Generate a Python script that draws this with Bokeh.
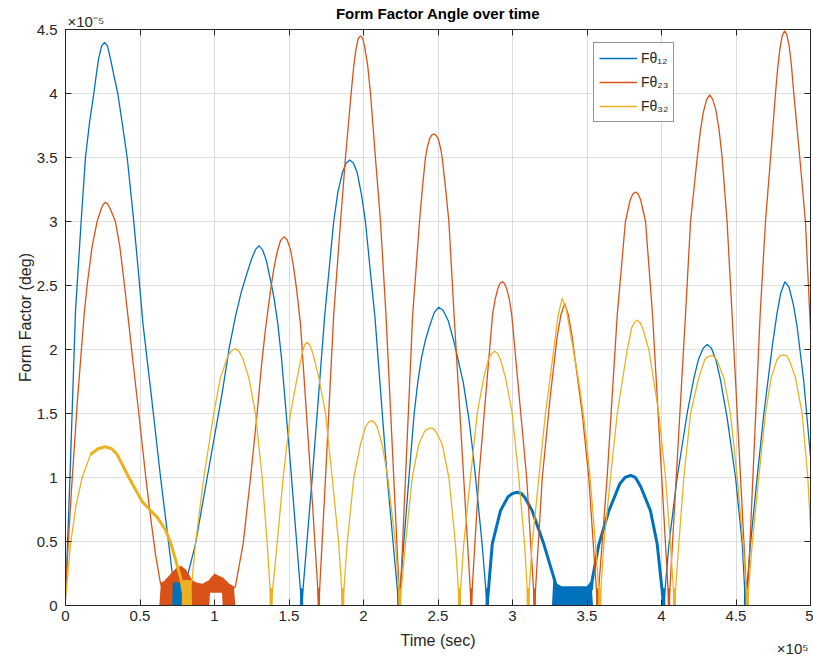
import numpy as np
from bokeh.plotting import figure
from bokeh.models import (Range1d, FixedTicker, CustomJSTickFormatter, LinearAxis,
                          Title, Legend, LegendItem)
from bokeh.embed import file_html
from bokeh.resources import INLINE

# ---------------- data (time in 1e5 s, form factor in 1e-5 deg) ----------------
x_ticks = [0, 0.5, 1, 1.5, 2, 2.5, 3, 3.5, 4, 4.5, 5]
y_ticks = [0, 0.5, 1, 1.5, 2, 2.5, 3, 3.5, 4, 4.5]

blue_pts = [
    (0.0, 0.05), (0.03, 1.0), (0.067, 2.3), (0.105, 3.0), (0.134, 3.5), (0.162, 3.78),
    (0.19, 4.0), (0.207, 4.15), (0.222, 4.27), (0.242, 4.37), (0.262, 4.40), (0.282, 4.37),
    (0.302, 4.27), (0.325, 4.14), (0.351, 4.0), (0.383, 3.75), (0.414, 3.5), (0.454, 3.05),
    (0.486, 2.65), (0.52, 2.2), (0.58, 1.6), (0.638, 1.0), (0.693, 0.48), (0.742, 0.0),
    (0.78, 0.05), (0.872, 0.48), (0.951, 1.0), (1.05, 1.65), (1.10, 2.02), (1.141, 2.26),
    (1.18, 2.45), (1.219, 2.6), (1.25, 2.71), (1.275, 2.78), (1.297, 2.81), (1.322, 2.78),
    (1.347, 2.7), (1.38, 2.52), (1.40, 2.4), (1.425, 2.2), (1.45, 1.93), (1.51, 1.1),
    (1.585, 0.0),
    (1.656, 1.0), (1.74, 2.27), (1.80, 3.0), (1.828, 3.23), (1.858, 3.38), (1.883, 3.455),
    (1.908, 3.48), (1.933, 3.455), (1.958, 3.38), (1.988, 3.2), (2.013, 3.0), (2.051, 2.55),
    (2.077, 2.25), (2.159, 1.0), (2.237, 0.0),
    (2.27, 0.48), (2.305, 1.0), (2.34, 1.5), (2.365, 1.75), (2.39, 1.94), (2.415, 2.07),
    (2.44, 2.17), (2.475, 2.29), (2.505, 2.33), (2.535, 2.305), (2.57, 2.22), (2.605, 2.07),
    (2.629, 1.95), (2.67, 1.74), (2.707, 1.46), (2.73, 1.24), (2.752, 1.0), (2.796, 0.48),
    (2.83, 0.0),
    (2.864, 0.48), (2.919, 0.74), (2.97, 0.85), (3.00, 0.875), (3.032, 0.885), (3.06, 0.875),
    (3.085, 0.84), (3.132, 0.74), (3.21, 0.48), (3.277, 0.22), (3.30, 0.12), (3.53, 0.12),
    (3.535, 0.2), (3.58, 0.48), (3.647, 0.74), (3.72, 0.95), (3.755, 1.0), (3.792, 1.016),
    (3.825, 1.0), (3.86, 0.93), (3.926, 0.74), (3.971, 0.48), (4.015, 0.0),
    (4.05, 0.48), (4.105, 1.0), (4.172, 1.5), (4.218, 1.78), (4.25, 1.93), (4.28, 2.01),
    (4.307, 2.04), (4.335, 2.01), (4.365, 1.92), (4.396, 1.76), (4.44, 1.47), (4.497, 1.0),
    (4.542, 0.48), (4.564, 0.0),
    (4.597, 0.48), (4.642, 1.0), (4.687, 1.5), (4.743, 2.02), (4.775, 2.28), (4.80, 2.44),
    (4.828, 2.53), (4.855, 2.49), (4.885, 2.35), (4.91, 2.18), (4.955, 1.75), (5.0, 1.16),
]

orange_pts = [
    (0.0, 0.12), (0.04, 0.9), (0.08, 1.6), (0.125, 2.27), (0.145, 2.5), (0.178, 2.8),
    (0.212, 3.0), (0.24, 3.1), (0.254, 3.135), (0.268, 3.15), (0.284, 3.135), (0.30, 3.1),
    (0.335, 3.0), (0.365, 2.8), (0.396, 2.5), (0.425, 2.2), (0.46, 1.83), (0.492, 1.5),
    (0.537, 1.02), (0.57, 0.7), (0.604, 0.4), (0.638, 0.17), (0.66, 0.12), (1.12, 0.12),
    (1.14, 0.15), (1.192, 0.48), (1.242, 1.0), (1.286, 1.5), (1.315, 1.87), (1.342, 2.16),
    (1.376, 2.46), (1.398, 2.63), (1.42, 2.76), (1.443, 2.85), (1.465, 2.88), (1.487, 2.86),
    (1.51, 2.78), (1.53, 2.65), (1.55, 2.48), (1.577, 2.2), (1.62, 1.45), (1.66, 0.75),
    (1.70, 0.0),
    (1.745, 1.0), (1.80, 2.27), (1.846, 3.0), (1.879, 3.5), (1.917, 4.0), (1.935, 4.22),
    (1.95, 4.35), (1.965, 4.43), (1.98, 4.45), (1.995, 4.43), (2.01, 4.35), (2.028, 4.22),
    (2.047, 4.0), (2.08, 3.5), (2.114, 3.0), (2.151, 2.27), (2.244, 0.0),
    (2.33, 2.27), (2.376, 3.0), (2.396, 3.27), (2.416, 3.5), (2.43, 3.59), (2.445, 3.65),
    (2.458, 3.675), (2.472, 3.685), (2.486, 3.675), (2.50, 3.65), (2.514, 3.59), (2.528, 3.5),
    (2.55, 3.27), (2.573, 3.0), (2.608, 2.27), (2.723, 0.0),
    (2.774, 1.0), (2.866, 2.27), (2.883, 2.39), (2.90, 2.47), (2.916, 2.515), (2.931, 2.53),
    (2.946, 2.515), (2.962, 2.47), (2.979, 2.39), (2.995, 2.27), (3.095, 1.0), (3.148, 0.0),
    (3.20, 1.0), (3.255, 1.65), (3.30, 2.1), (3.325, 2.27), (3.35, 2.36), (3.375, 2.27),
    (3.40, 2.1), (3.468, 1.5), (3.512, 1.0), (3.57, 0.0),
    (3.635, 1.0), (3.703, 2.27), (3.758, 3.0), (3.79, 3.17), (3.808, 3.215), (3.826, 3.23),
    (3.843, 3.215), (3.86, 3.17), (3.893, 3.0), (3.94, 2.27), (4.05, 0.0),
    (4.161, 2.27), (4.195, 3.0), (4.24, 3.5), (4.26, 3.7), (4.28, 3.85), (4.302, 3.95),
    (4.324, 3.99), (4.345, 3.95), (4.365, 3.87), (4.386, 3.72), (4.407, 3.5), (4.44, 3.0),
    (4.474, 2.27), (4.575, 0.0),
    (4.662, 2.27), (4.698, 3.0), (4.732, 3.5), (4.765, 4.0), (4.78, 4.2), (4.795, 4.35),
    (4.81, 4.45), (4.826, 4.49), (4.841, 4.46), (4.857, 4.37), (4.872, 4.22), (4.888, 4.0),
    (4.928, 3.5), (4.966, 3.0), (5.0, 2.15),
]

yellow_pts = [
    (0.0, 0.05), (0.034, 0.48), (0.07, 0.78), (0.112, 1.0), (0.168, 1.18), (0.218, 1.225),
    (0.268, 1.24), (0.31, 1.225), (0.347, 1.18), (0.425, 1.0), (0.515, 0.81), (0.615, 0.69),
    (0.671, 0.59), (0.709, 0.48), (0.772, 0.22), (0.805, 0.0),
    (0.85, 0.2), (0.872, 0.48), (0.928, 1.0), (0.995, 1.5), (1.04, 1.78), (1.09, 1.95),
    (1.115, 1.99), (1.141, 2.005), (1.165, 1.985), (1.19, 1.93), (1.23, 1.78), (1.275, 1.5),
    (1.32, 1.0), (1.354, 0.48), (1.38, 0.0),
    (1.42, 0.48), (1.461, 1.0), (1.51, 1.5), (1.555, 1.78), (1.59, 1.98), (1.605, 2.035),
    (1.622, 2.057), (1.64, 2.035), (1.66, 1.97), (1.70, 1.78), (1.745, 1.5), (1.79, 1.0),
    (1.834, 0.48), (1.861, 0.0),
    (1.89, 0.48), (1.935, 1.0), (1.98, 1.26), (2.015, 1.4), (2.035, 1.433), (2.054, 1.445),
    (2.072, 1.433), (2.09, 1.4), (2.125, 1.26), (2.163, 1.0), (2.215, 0.48), (2.244, 0.0),
    (2.282, 0.48), (2.327, 1.0), (2.371, 1.26), (2.41, 1.36), (2.432, 1.38), (2.454, 1.388),
    (2.472, 1.38), (2.49, 1.35), (2.528, 1.26), (2.573, 1.0), (2.617, 0.48), (2.644, 0.0),
    (2.673, 0.48), (2.718, 1.0), (2.763, 1.5), (2.807, 1.78), (2.84, 1.93), (2.86, 1.97),
    (2.881, 1.987), (2.90, 1.97), (2.92, 1.92), (2.953, 1.78), (2.998, 1.5), (3.042, 1.0),
    (3.081, 0.48), (3.105, 0.0),
    (3.132, 0.48), (3.177, 1.0), (3.221, 1.5), (3.277, 2.0), (3.305, 2.26), (3.333, 2.40),
    (3.36, 2.32), (3.39, 2.12), (3.43, 1.85), (3.455, 1.67), (3.478, 1.47), (3.50, 1.24),
    (3.519, 1.02), (3.557, 0.48), (3.586, 0.0),
    (3.613, 0.48), (3.658, 1.0), (3.703, 1.5), (3.77, 2.0), (3.80, 2.17), (3.818, 2.21),
    (3.837, 2.23), (3.856, 2.21), (3.875, 2.16), (3.915, 2.0), (3.982, 1.5), (4.027, 1.0),
    (4.06, 0.48), (4.087, 0.0),
    (4.116, 0.48), (4.15, 1.0), (4.195, 1.5), (4.25, 1.78), (4.29, 1.92), (4.313, 1.945),
    (4.336, 1.953), (4.356, 1.945), (4.375, 1.91), (4.418, 1.78), (4.463, 1.5), (4.508, 1.0),
    (4.548, 0.48), (4.575, 0.0),
    (4.609, 0.48), (4.653, 1.0), (4.698, 1.5), (4.736, 1.78), (4.775, 1.92), (4.795, 1.95),
    (4.817, 1.958), (4.84, 1.95), (4.86, 1.91), (4.899, 1.78), (4.944, 1.5), (4.982, 1.0),
    (5.0, 0.61),
]

# noisy (high-frequency) regions: envelopes
orange_noise_t = [0.63, 0.64, 0.66, 0.70, 0.74, 0.775, 0.81, 0.85, 0.88, 0.92,
                  0.965, 0.97, 1.0, 1.05, 1.055, 1.10, 1.13, 1.14]
orange_noise_top = [0.0, 0.18, 0.19, 0.24, 0.29, 0.31, 0.28, 0.2, 0.18, 0.17,
                    0.2, 0.21, 0.25, 0.22, 0.22, 0.17, 0.15, 0.0]
orange_noise_bot = [0, 0, 0, 0, 0, 0, 0, 0, 0, 0, 0, 0.1, 0.1, 0.1, 0, 0, 0, 0]

blue_noise1_t = [0.716, 0.72, 0.78, 0.785]
blue_noise1_top = [0.0, 0.18, 0.18, 0.0]
blue_noise2_t = [3.265, 3.275, 3.30, 3.33, 3.50, 3.53, 3.54]
blue_noise2_top = [0.0, 0.24, 0.17, 0.15, 0.15, 0.2, 0.0]
yellow_noise_t = [0.78, 0.785, 0.845, 0.85]
yellow_noise_top = [0.0, 0.2, 0.2, 0.0]

blue_stem_t = [1.585, 2.237, 2.83, 4.015, 4.564]
orange_stem_t = [1.70, 2.723, 3.148, 3.57, 4.05, 4.575]
yellow_stem_t = [1.38, 1.861, 2.244, 2.644, 3.105, 3.586, 4.087, 4.575]
stem_top = 0.13

blue_thick = [(2.83, 3.30), (3.53, 4.015)]
yellow_thick = [(0.15, 0.805)]

labels = ["F\u03b8\u2081\u2082", "F\u03b8\u2082\u2083", "F\u03b8\u2083\u2082"]
title_text = "Form Factor Angle over time"
x_label = "Time (sec)"
y_label = "Form Factor (deg)"
y_multiplier = "\u00d710\u207b\u2075"
x_multiplier = "\u00d710\u2075"

blue_t, blue_v = [list(a) for a in zip(*blue_pts)]
orange_t, orange_v = [list(a) for a in zip(*orange_pts)]
yellow_t, yellow_v = [list(a) for a in zip(*yellow_pts)]

# ---------------- styling ----------------
BLUE, ORANGE, YELLOW = "#0072BD", "#D95319", "#EDB120"
AX = "#262626"
FONT = "Liberation Sans"

p = figure(width=813, height=657, output_backend="svg", toolbar_location=None,
           x_range=Range1d(0, 5), y_range=Range1d(0, 4.5),
           min_border_left=65, min_border_right=3, min_border_top=29,
           min_border_bottom=52)
p.title_location = None
p.background_fill_color = "white"
p.border_fill_color = "white"
p.outline_line_color = AX
p.outline_line_width = 1

fmt = CustomJSTickFormatter(code="return String(tick);")
for ax, ticks in ((p.xaxis[0], x_ticks), (p.yaxis[0], y_ticks)):
    ax.ticker = FixedTicker(ticks=ticks)
    ax.formatter = fmt
    ax.major_tick_in = 6
    ax.major_tick_out = 0
    ax.minor_tick_in = 0
    ax.minor_tick_out = 0
    ax.axis_line_color = AX
    ax.major_tick_line_color = AX
    ax.major_label_text_color = AX
    ax.major_label_text_font = FONT
    ax.major_label_text_font_size = "15px"
    ax.axis_label_text_font = FONT
    ax.axis_label_text_font_size = "16px"
    ax.axis_label_text_font_style = "normal"
    ax.axis_label_text_color = AX

p.yaxis.axis_label = y_label
p.xaxis.major_label_standoff = 5
p.yaxis.major_label_standoff = 8
p.yaxis.axis_label_standoff = 0

# second row below the x axis: the axis title
below2 = LinearAxis(ticker=FixedTicker(ticks=[2.5]),
                    formatter=CustomJSTickFormatter(args=dict(s=x_label),
                                                    code="return s;"),
                    axis_line_color=None, major_tick_line_color=None,
                    minor_tick_line_color=None, major_tick_in=0, major_tick_out=0,
                    major_label_standoff=8, major_label_text_font=FONT,
                    major_label_text_font_size="16px", major_label_text_color=AX)
p.add_layout(below2, "below")
# x multiplier, pulled up into the axis-title row at the right
p.add_layout(Title(text=x_multiplier, align="right", offset=2, standoff=-24,
                   vertical_align="top",
                   text_font=FONT, text_font_size="15px", text_font_style="normal",
                   text_color=AX), "below")

for place, ticks in (("above", x_ticks), ("right", y_ticks)):
    extra = LinearAxis(ticker=FixedTicker(ticks=ticks),
                       formatter=CustomJSTickFormatter(code="return '';"),
                       major_label_text_font_size="0px", major_label_standoff=0,
                       major_tick_in=6, major_tick_out=0, minor_tick_in=0,
                       minor_tick_out=0, axis_line_color=AX,
                       major_tick_line_color=AX)
    p.add_layout(extra, place)

# y multiplier (nearest to the frame) and the bold title (overlapping row above it)
p.add_layout(Title(text=y_multiplier, align="left", offset=2, standoff=0,
                   text_font=FONT, text_font_size="15px", text_font_style="normal",
                   text_color=AX), "above")
p.add_layout(Title(text=title_text, align="center", standoff=-22,
                   text_font=FONT, text_font_size="15px", text_font_style="bold",
                   text_color="black"), "above")

p.xgrid.ticker = FixedTicker(ticks=x_ticks)
p.ygrid.ticker = FixedTicker(ticks=y_ticks)
p.xgrid.grid_line_color = "#dcdcdc"
p.ygrid.grid_line_color = "#dcdcdc"


def sub(t, v, lo, hi):
    t = np.asarray(t)
    v = np.asarray(v)
    m = (t >= lo) & (t <= hi)
    return t[m], v[m]


LW = 1.3
rb = p.line(blue_t, blue_v, line_color=BLUE, line_width=LW)
for lo, hi in blue_thick:
    tt, vv = sub(blue_t, blue_v, lo, hi)
    p.line(tt, vv, line_color=BLUE, line_width=3)
p.vbar(x=blue_stem_t, width=0.014, top=stem_top, bottom=0, color=BLUE)
p.varea(x=blue_noise2_t, y1=0, y2=blue_noise2_top, fill_color=BLUE)

ro = p.line(orange_t, orange_v, line_color=ORANGE, line_width=LW)
p.vbar(x=orange_stem_t, width=0.01, top=stem_top, bottom=0, color=ORANGE)
p.varea(x=orange_noise_t, y1=orange_noise_bot, y2=orange_noise_top, fill_color=ORANGE)
p.varea(x=blue_noise1_t, y1=0, y2=blue_noise1_top, fill_color=BLUE)

ry = p.line(yellow_t, yellow_v, line_color=YELLOW, line_width=LW)
for lo, hi in yellow_thick:
    tt, vv = sub(yellow_t, yellow_v, lo, hi)
    p.line(tt, vv, line_color=YELLOW, line_width=3)
p.vbar(x=yellow_stem_t, width=0.014, top=stem_top, bottom=0, color=YELLOW)
p.varea(x=yellow_noise_t, y1=0, y2=yellow_noise_top, fill_color=YELLOW)

legend = Legend(items=[LegendItem(label=labels[0], renderers=[rb]),
                       LegendItem(label=labels[1], renderers=[ro]),
                       LegendItem(label=labels[2], renderers=[ry])],
                location=(528, 483))
legend.border_line_color = AX
legend.border_line_width = 1
legend.background_fill_alpha = 1
legend.label_text_font = FONT
legend.label_text_font_size = "14px"
legend.label_text_color = AX
legend.glyph_width = 38
legend.glyph_height = 20
legend.label_height = 20
legend.spacing = 4
legend.padding = 5
legend.margin = 0
legend.label_standoff = 4
p.add_layout(legend)

open("out.html", "w").write(file_html(p, INLINE))
